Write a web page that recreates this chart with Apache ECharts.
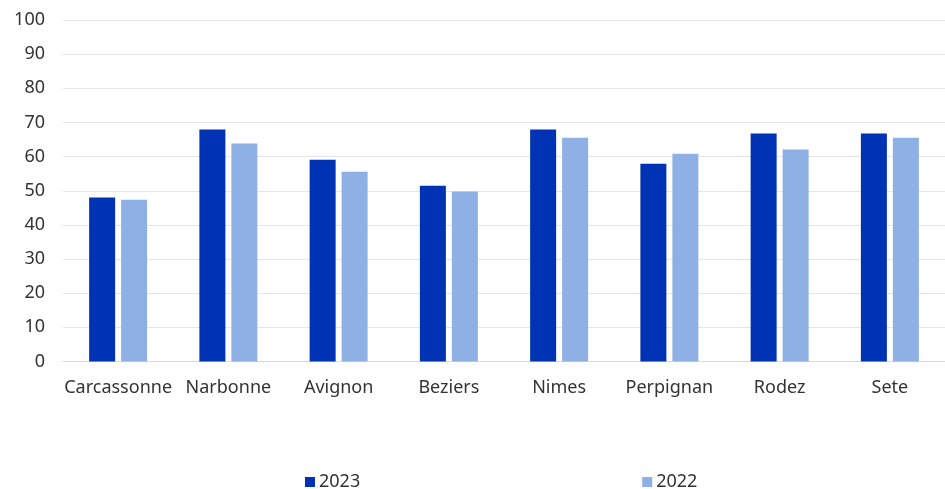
<!DOCTYPE html>
<html>
<head>
<meta charset="utf-8">
<script src="https://cdn.jsdelivr.net/npm/echarts@6/dist/echarts.min.js"></script>
<style>
html,body{margin:0;padding:0;background:#fff;}
#chart{width:945px;height:489px;}
</style>
</head>
<body>
<div id="chart"></div>
<script>
const categories = ["Carcassonne","Narbonne","Avignon","Beziers","Nimes","Perpignan","Rodez","Sete"];
const values2023 = [48.0, 67.9, 59.1, 51.5, 67.9, 57.9, 66.8, 66.8];
const values2022 = [47.4, 63.8, 55.6, 49.8, 65.5, 60.8, 62.1, 65.5];
const seriesNames = ["2023","2022"];

const chart = echarts.init(document.getElementById('chart'), null, {renderer:'canvas'});
const font = '"Noto Sans", sans-serif';
chart.setOption({
  animation:false,
  textStyle:{fontFamily:font},
  grid:{left:63,right:0,top:20,bottom:127.5,containLabel:false},
  legend:{
    data:seriesNames,
    left:300, top:468,
    itemWidth:10, itemHeight:10, itemGap:282,
    icon:'rect',
    textStyle:{fontSize:18,color:'#333333',fontFamily:font,padding:[0,0,0,-1]}
  },
  xAxis:{
    type:'category',
    data:categories,
    axisLine:{show:true,lineStyle:{color:'#d9d9d9',width:1}},
    axisTick:{show:false},
    axisLabel:{fontSize:18,color:'#333333',margin:17,fontFamily:font,interval:0}
  },
  yAxis:{
    type:'value',
    min:0,max:100,interval:10,
    axisLine:{show:false},
    axisTick:{show:false},
    splitLine:{lineStyle:{color:'#e6e6e6',width:1}},
    axisLabel:{fontSize:18,color:'#333333',margin:18,fontFamily:font}
  },
  series:[
    {name:seriesNames[0],type:'bar',data:values2023,itemStyle:{color:'#0032B4'},barWidth:26,barGap:'23%'},
    {name:seriesNames[1],type:'bar',data:values2022,itemStyle:{color:'#8EB0E5'},barWidth:26}
  ]
});
</script>
</body>
</html>
